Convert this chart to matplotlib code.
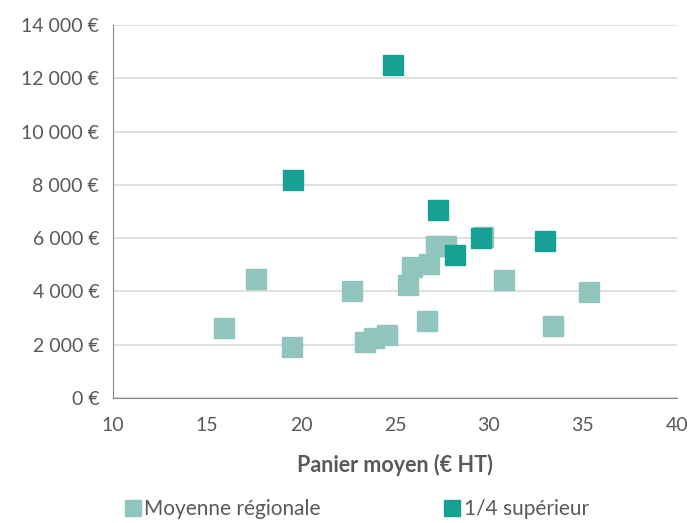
import matplotlib.pyplot as plt
from matplotlib.ticker import FuncFormatter, MultipleLocator
from matplotlib.lines import Line2D

plt.rcParams['font.family'] = ['Lato', 'DejaVu Sans']

# Moyenne régionale
reg_panier = [15.9, 17.6, 19.5, 22.7, 23.4, 23.9, 24.6, 25.7, 25.9, 26.8, 26.7,
              27.2, 27.7, 29.7, 30.8, 33.4, 35.3]
reg_ca = [2620, 4460, 1910, 4010, 2100, 2260, 2370, 4250, 4920, 5030, 2900,
          5720, 5710, 6040, 4430, 2710, 3970]

# 1/4 supérieur
top_panier = [24.9, 19.6, 27.3, 28.2, 29.6, 33.0]
top_ca = [12520, 8200, 7050, 5360, 6000, 5890]

c_reg = '#8fc5bc'
c_top = '#17a195'
txt = '#595959'

fig = plt.figure(figsize=(6.9, 5.23), dpi=100)
ax = fig.add_axes([0.1638, 0.239, 0.8172, 0.713])

ax.plot(reg_panier, reg_ca, 's', color=c_reg, markersize=15, linestyle='none', zorder=3)
ax.plot(top_panier, top_ca, 's', color=c_top, markersize=15, linestyle='none', zorder=4)

ax.set_xlim(10, 40)
ax.set_ylim(0, 14000)
ax.xaxis.set_major_locator(MultipleLocator(5))
ax.yaxis.set_major_locator(MultipleLocator(2000))
ax.yaxis.set_major_formatter(FuncFormatter(lambda v, p: f"{int(v):,}".replace(",", " ") + " €"))

ax.grid(axis='y', color='#d9d9d9', linewidth=1.2, zorder=0)
ax.set_axisbelow(True)
for s in ('top', 'right'):
    ax.spines[s].set_visible(False)
ax.spines['left'].set_color('#868686')
ax.spines['bottom'].set_color('#868686')
ax.tick_params(length=0, labelsize=14, colors=txt, pad=10)
ax.tick_params(axis='x', pad=14)

ax.set_xlabel('Panier moyen (€ HT)', fontsize=15.5, fontweight='bold', color=txt, labelpad=14)

handles = [Line2D([], [], marker='s', color=c_reg, linestyle='none', markersize=11),
           Line2D([], [], marker='s', color=c_top, linestyle='none', markersize=11)]
fig.legend(handles, ['Moyenne régionale', '1/4 supérieur'], loc='lower left',
           bbox_to_anchor=(0.152, -0.028), ncol=2, frameon=False, fontsize=15,
           handletextpad=0.1, columnspacing=5.85, labelcolor=txt, handlelength=0.9)

fig.savefig('out.png', dpi=100)
